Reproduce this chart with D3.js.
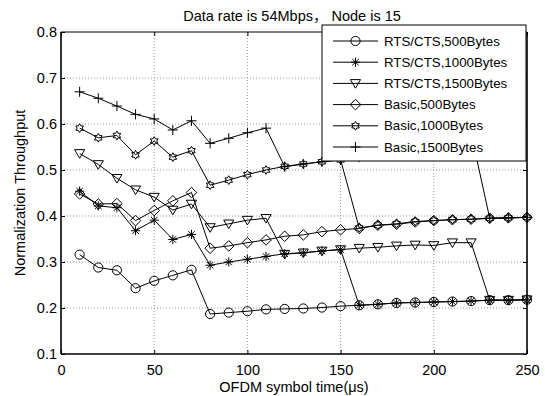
<!DOCTYPE html>
<html>
<head>
<meta charset="utf-8">
<script src="https://cdn.jsdelivr.net/npm/d3@7"></script>
<style>
  html, body { margin: 0; padding: 0; background: #fff; }
  svg { display: block; font-family: "Liberation Sans", Arial, "Noto Sans CJK SC", sans-serif; }
</style>
</head>
<body>
<svg id="chart" width="545" height="396"></svg>
<script>
// OFDM symbol time (µs)
const symbolTime = [10, 20, 30, 40, 50, 60, 70, 80, 90, 100, 110, 120, 130,
                    140, 150, 160, 170, 180, 190, 200, 210, 220, 230, 240, 250];

// Normalized throughput per access scheme / payload size
const rts500 = [0.316, 0.288, 0.282, 0.243, 0.259, 0.271, 0.283, 0.187, 0.190, 0.193, 0.197, 0.198, 0.199,
                0.201, 0.204, 0.206, 0.208, 0.211, 0.212, 0.213, 0.214, 0.215, 0.217, 0.217, 0.218];
const rts1000 = [0.454, 0.422, 0.418, 0.368, 0.391, 0.349, 0.360, 0.293, 0.300, 0.306, 0.312, 0.318, 0.320,
                 0.324, 0.327, 0.206, 0.208, 0.211, 0.212, 0.213, 0.214, 0.215, 0.217, 0.217, 0.218];
const rts1500 = [0.536, 0.512, 0.482, 0.457, 0.441, 0.413, 0.426, 0.375, 0.383, 0.391, 0.395, 0.317, 0.320,
                 0.324, 0.327, 0.330, 0.332, 0.335, 0.337, 0.336, 0.342, 0.342, 0.217, 0.217, 0.218];
const basic500 = [0.448, 0.426, 0.427, 0.390, 0.412, 0.433, 0.451, 0.330, 0.335, 0.342, 0.348, 0.356, 0.359,
                  0.366, 0.370, 0.373, 0.380, 0.382, 0.387, 0.390, 0.392, 0.393, 0.395, 0.396, 0.397];
const basic1000 = [0.591, 0.570, 0.575, 0.533, 0.563, 0.528, 0.542, 0.467, 0.478, 0.490, 0.500, 0.508, 0.513,
                   0.518, 0.522, 0.374, 0.380, 0.383, 0.388, 0.390, 0.392, 0.393, 0.395, 0.396, 0.397];
const basic1500 = [0.670, 0.656, 0.639, 0.621, 0.611, 0.587, 0.607, 0.558, 0.569, 0.581, 0.591, 0.507, 0.513,
                   0.518, 0.522, 0.528, 0.536, 0.545, 0.554, 0.563, 0.572, 0.580, 0.395, 0.396, 0.397];

const seriesNames = ["RTS/CTS,500Bytes", "RTS/CTS,1000Bytes", "RTS/CTS,1500Bytes",
                     "Basic,500Bytes", "Basic,1000Bytes", "Basic,1500Bytes"];
const seriesMarkers = ["circle", "asterisk", "triangleDown", "diamond", "hexagram", "plus"];

const xTicks = [0, 50, 100, 150, 200, 250];
const yTicks = [0.1, 0.2, 0.3, 0.4, 0.5, 0.6, 0.7, 0.8];

const titleText = "Data rate is 54Mbps， Node is 15";
const xLabel = "OFDM symbol time(\u03bcs)";
const yLabel = "Normalization Throughput";

const seriesValues = [rts500, rts1000, rts1500, basic500, basic1000, basic1500];
const series = seriesNames.map((name, i) => ({
  name, marker: seriesMarkers[i],
  points: symbolTime.map((t, j) => ({ x: t, y: seriesValues[i][j] }))
}));

const svg = d3.select("#chart");
const plot = { left: 61, right: 527, top: 32, bottom: 354 };

const x = d3.scaleLinear().domain([0, 250]).range([plot.left, plot.right]);
const y = d3.scaleLinear().domain([0.1, 0.8]).range([plot.bottom, plot.top]);

// dotted grid
const grid = svg.append("g").attr("stroke", "#9a9a9a").attr("stroke-width", 1)
  .attr("stroke-dasharray", "1,2");
xTicks.filter(t => t > 0 && t < 250).forEach(t => {
  grid.append("line").attr("x1", x(t)).attr("x2", x(t))
    .attr("y1", plot.top).attr("y2", plot.bottom);
});
yTicks.filter(t => t > 0.1 && t < 0.8).forEach(t => {
  grid.append("line").attr("y1", y(t)).attr("y2", y(t))
    .attr("x1", plot.left).attr("x2", plot.right);
});

// axes with inward ticks on all four sides
const fontSize = 14.5;
const legendFontSize = 13.3;
const bottomAxis = d3.axisBottom(x).tickValues(xTicks).tickSize(-4).tickPadding(11)
  .tickFormat(d3.format("d"));
const leftAxis = d3.axisLeft(y).tickValues(yTicks).tickSize(-4).tickPadding(4)
  .tickFormat(d3.format(".1f"));
const topAxis = d3.axisTop(x).tickValues(xTicks).tickSize(-4).tickFormat("");
const rightAxis = d3.axisRight(y).tickValues(yTicks).tickSize(-4).tickFormat("");

function styleAxis(g) {
  g.select(".domain").remove();
  g.selectAll(".tick line").attr("stroke", "#000");
  g.selectAll("text").attr("fill", "#000").style("font-size", fontSize + "px")
    .style("font-family", '"Liberation Sans", Arial, sans-serif');
}
svg.append("g").attr("transform", `translate(0,${plot.bottom})`).call(bottomAxis).call(styleAxis);
svg.append("g").attr("transform", `translate(${plot.left},0)`).call(leftAxis).call(styleAxis);
svg.append("g").attr("transform", `translate(0,${plot.top})`).call(topAxis).call(styleAxis);
svg.append("g").attr("transform", `translate(${plot.right},0)`).call(rightAxis).call(styleAxis);

// marker shapes
function markerPath(type, r) {
  const p = d3.path();
  switch (type) {
    case "circle":
      p.arc(0, 0, r, 0, 2 * Math.PI); break;
    case "asterisk": {
      for (let k = 0; k < 4; k++) {
        const a = k * Math.PI / 4;
        p.moveTo(-r * Math.cos(a), -r * Math.sin(a));
        p.lineTo(r * Math.cos(a), r * Math.sin(a));
      }
      break;
    }
    case "triangleDown": {
      const h = r * 1.1;
      p.moveTo(-h, -h * 0.75); p.lineTo(h, -h * 0.75); p.lineTo(0, h * 0.95); p.closePath();
      break;
    }
    case "diamond":
      p.moveTo(0, -r * 1.15); p.lineTo(r * 1.15, 0); p.lineTo(0, r * 1.15); p.lineTo(-r * 1.15, 0); p.closePath();
      break;
    case "hexagram": {
      const ro = r * 0.95, ri = ro * 0.58;
      for (let k = 0; k < 12; k++) {
        const a = -Math.PI / 2 + k * Math.PI / 6;
        const rr = k % 2 === 0 ? ro : ri;
        if (k === 0) p.moveTo(rr * Math.cos(a), rr * Math.sin(a));
        else p.lineTo(rr * Math.cos(a), rr * Math.sin(a));
      }
      p.closePath();
      break;
    }
    case "plus":
      p.moveTo(-r * 1.1, 0); p.lineTo(r * 1.1, 0); p.moveTo(0, -r * 1.1); p.lineTo(0, r * 1.1);
      break;
  }
  return p.toString();
}

const line = d3.line().x(d => x(d.x)).y(d => y(d.y));
const markerR = 4.6;

const seriesG = svg.append("g");
series.forEach(s => {
  const g = seriesG.append("g");
  g.append("path").datum(s.points).attr("d", line)
    .attr("fill", "none").attr("stroke", "#000").attr("stroke-width", 1);
  g.selectAll("path.mk").data(s.points).join("path").attr("class", "mk")
    .attr("transform", d => `translate(${x(d.x)},${y(d.y)})`)
    .attr("d", markerPath(s.marker, markerR))
    .attr("fill", "none").attr("stroke", "#000").attr("stroke-width", 1);
});

// axes box
const box = svg.append("g").attr("stroke", "#000").attr("fill", "none");
box.append("line").attr("x1", plot.left).attr("x2", plot.right).attr("y1", plot.top).attr("y2", plot.top).attr("stroke-width", 1);
box.append("line").attr("x1", plot.left).attr("x2", plot.right).attr("y1", plot.bottom).attr("y2", plot.bottom).attr("stroke-width", 1.6);
box.append("line").attr("x1", plot.left).attr("x2", plot.left).attr("y1", plot.top).attr("y2", plot.bottom).attr("stroke-width", 1.6);
box.append("line").attr("x1", plot.right).attr("x2", plot.right).attr("y1", plot.top).attr("y2", plot.bottom).attr("stroke-width", 1.6);

// title and axis labels
svg.append("text").attr("x", 292).attr("y", 21).attr("text-anchor", "middle")
  .style("font-size", fontSize + "px")
  .style("font-family", '"Liberation Sans", Arial, "Noto Sans CJK SC", sans-serif')
  .text(titleText);
svg.append("text").attr("x", (plot.left + plot.right) / 2).attr("y", 392).attr("text-anchor", "middle")
  .style("font-size", fontSize + "px").text(xLabel);
svg.append("text").attr("transform", `translate(25,${(plot.top + plot.bottom) / 2}) rotate(-90)`)
  .attr("text-anchor", "middle").style("font-size", fontSize + "px").text(yLabel);

// legend
const legend = svg.append("g");
const lg = { x: 322, y: 25, w: 204, h: 136 };
legend.append("rect").attr("x", lg.x).attr("y", lg.y).attr("width", lg.w).attr("height", lg.h)
  .attr("fill", "#fff").attr("stroke", "#000").attr("stroke-width", 1);
series.forEach((s, i) => {
  const cy = 41 + i * 21.2;
  legend.append("line").attr("x1", 333).attr("x2", 378).attr("y1", cy).attr("y2", cy)
    .attr("stroke", "#000").attr("stroke-width", 1);
  legend.append("path").attr("transform", `translate(355.5,${cy})`)
    .attr("d", markerPath(s.marker, markerR)).attr("fill", "none").attr("stroke", "#000");
  legend.append("text").attr("x", 384).attr("y", cy).attr("dy", "0.35em")
    .style("font-size", legendFontSize + "px").text(s.name);
});
</script>
</body>
</html>
